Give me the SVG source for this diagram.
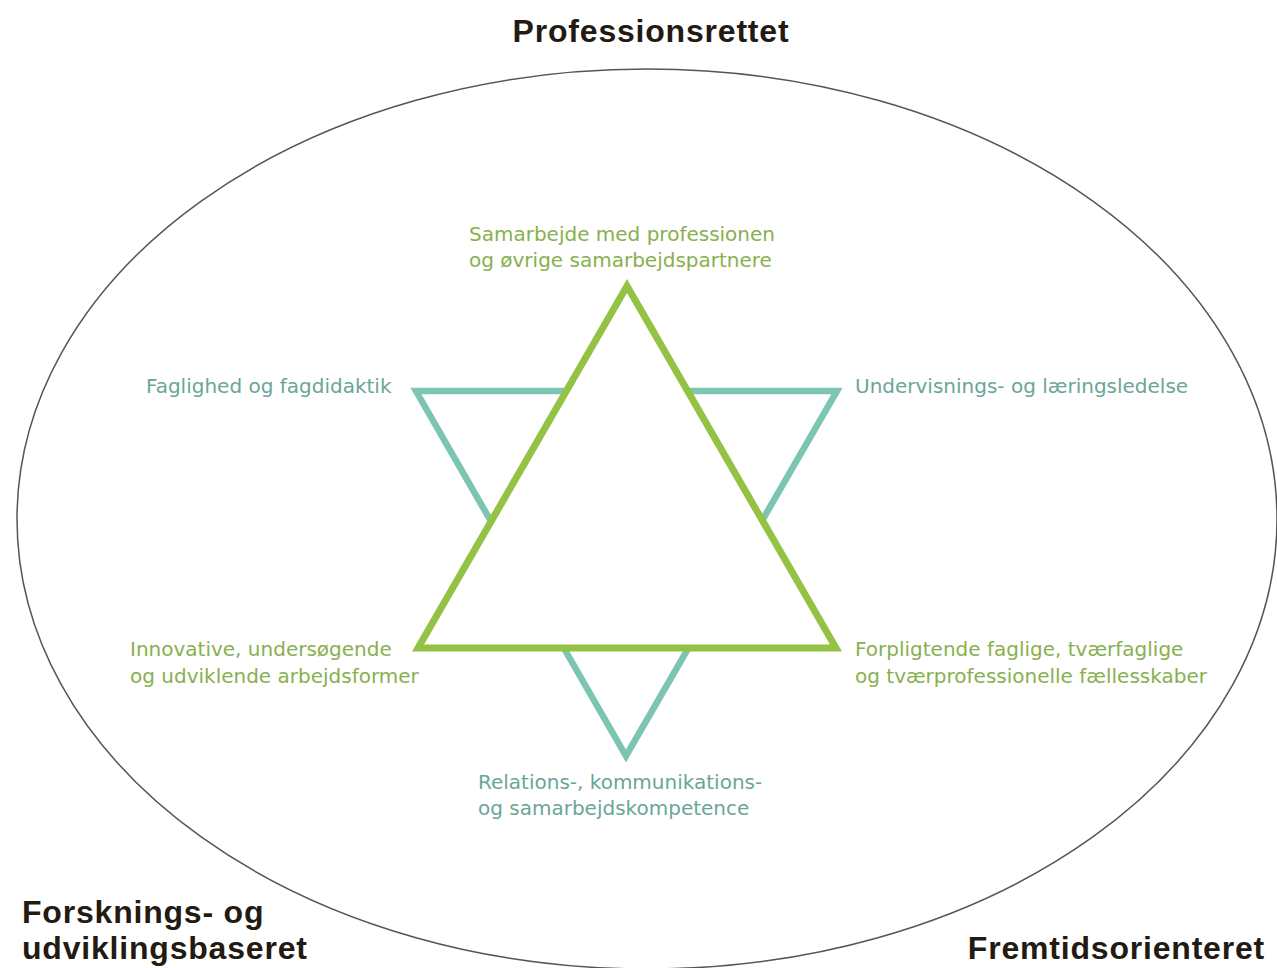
<svg xmlns="http://www.w3.org/2000/svg" width="1277" height="968" viewBox="0 0 1277 968">
<style>
.title{font-family:"Liberation Sans",Arial,sans-serif;font-weight:bold;font-size:32px;letter-spacing:0.8px;fill:#231a12}
.lbl{font-family:"DejaVu Sans",sans-serif;font-size:20px}
.g{fill:#88b04f}
.t{fill:#6aa697}
</style>
<rect width="1277" height="968" fill="#ffffff"/>
<g id="frame">
<ellipse cx="647" cy="519" rx="630" ry="450" fill="none" stroke="#555" stroke-width="1.5"/>
</g>
<g id="star">
<polygon id="teal-triangle" points="416,391 837,391 626,756" fill="none" stroke="#7dc5b3" stroke-width="6.5" stroke-linejoin="miter"/>
<polygon id="green-triangle" points="627,286 836,648 418,648" fill="#ffffff" stroke="#93c244" stroke-width="7" stroke-linejoin="miter"/>
</g>
<g id="title-top"><text class="title" x="651" y="42" text-anchor="middle">Professionsrettet</text></g>
<g id="title-left"><text class="title" x="22" y="923">Forsknings- og</text><text class="title" x="22" y="959">udviklingsbaseret</text></g>
<g id="title-right"><text class="title" x="1265" y="959" text-anchor="end">Fremtidsorienteret</text></g>
<g id="n-top"><text class="lbl g" x="469" y="241">Samarbejde med professionen</text><text class="lbl g" x="469" y="267">og øvrige samarbejdspartnere</text></g>
<g id="n-upleft"><text class="lbl t" x="146" y="393">Faglighed og fagdidaktik</text></g>
<g id="n-upright"><text class="lbl t" x="855" y="393">Undervisnings- og læringsledelse</text></g>
<g id="n-lowleft"><text class="lbl g" x="130" y="656">Innovative, undersøgende</text><text class="lbl g" x="130" y="683">og udviklende arbejdsformer</text></g>
<g id="n-lowright"><text class="lbl g" x="855" y="656">Forpligtende faglige, tværfaglige</text><text class="lbl g" x="855" y="683">og tværprofessionelle fællesskaber</text></g>
<g id="n-bottom"><text class="lbl t" x="478" y="789">Relations-, kommunikations-</text><text class="lbl t" x="478" y="815">og samarbejdskompetence</text></g>
<g id="connectors"></g>
</svg>
